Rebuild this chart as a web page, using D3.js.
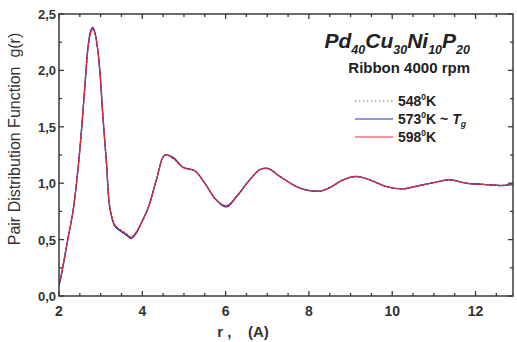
<!DOCTYPE html>
<html><head><meta charset="utf-8">
<script src="https://cdn.jsdelivr.net/npm/d3@7"></script>
<style>body{margin:0;background:#fff}svg{display:block}text{font-family:Arial,"Liberation Sans",sans-serif}</style>
</head><body><svg id="c" width="517" height="342"></svg>
<script>
const rVals = [2.0,2.06,2.14,2.22,2.34,2.46,2.54,2.62,2.70,2.76,2.81,2.86,2.92,2.98,3.06,3.14,3.22,3.34,3.50,3.62,3.73,3.86,3.98,4.14,4.34,4.54,4.74,4.98,5.26,5.50,5.78,6.02,6.26,6.58,6.82,7.02,7.30,7.70,7.94,8.26,8.50,8.82,9.14,9.46,9.86,10.26,10.66,11.06,11.38,11.78,12.18,12.66,12.9];
const g548 = [0.10,0.20,0.36,0.52,0.76,1.14,1.47,1.85,2.21,2.33,2.37,2.33,2.21,2.00,1.56,1.18,0.79,0.63,0.58,0.55,0.52,0.57,0.65,0.78,1.03,1.25,1.22,1.14,1.11,1.00,0.85,0.80,0.88,1.03,1.12,1.13,1.06,0.97,0.94,0.93,0.96,1.03,1.06,1.03,0.97,0.95,0.98,1.01,1.03,1.00,0.99,0.98,1.00];
const g573 = [0.09,0.19,0.35,0.52,0.76,1.14,1.47,1.86,2.22,2.35,2.38,2.34,2.21,2.00,1.56,1.18,0.78,0.62,0.57,0.54,0.51,0.56,0.65,0.78,1.03,1.25,1.23,1.14,1.11,1.00,0.85,0.79,0.88,1.03,1.12,1.13,1.06,0.97,0.94,0.93,0.96,1.03,1.06,1.03,0.97,0.95,0.98,1.01,1.03,1.00,0.99,0.98,0.99];
const g598 = [0.10,0.20,0.36,0.52,0.76,1.14,1.47,1.85,2.21,2.33,2.37,2.33,2.21,2.00,1.56,1.18,0.79,0.63,0.58,0.55,0.52,0.57,0.65,0.78,1.03,1.25,1.22,1.14,1.11,1.00,0.85,0.80,0.88,1.03,1.12,1.13,1.06,0.97,0.94,0.93,0.96,1.03,1.06,1.03,0.97,0.95,0.98,1.01,1.03,1.00,0.99,0.98,0.99];
const xTicks = [2,4,6,8,10,12];
const yTicks = [0,0.5,1.0,1.5,2.0,2.5];
const yTickLabels = ["0,0","0,5","1,0","1,5","2,0","2,5"];
const seriesNames = ["548","573","598"];

const svg = d3.select("#c");
const L=59,R=513,T=14,B=296;
const x = d3.scaleLinear().domain([2,12.9]).range([L,R]);
const y = d3.scaleLinear().domain([0,2.5]).range([B,T]);
const axisCol="#3a3a3a";

const line = d3.line().x((d,i)=>x(rVals[i])).y(d=>y(d)).curve(d3.curveCatmullRom.alpha(0.5));
const series = [
  {v:g548,col:"#222",dash:"1.5,2.5",w:1.3},
  {v:g573,col:"#2b2bb0",dash:null,w:1.4},
  {v:g598,col:"#e0303a",dash:null,w:1.1}
];
svg.append("defs").append("clipPath").attr("id","clp").append("rect").attr("x",L).attr("y",T-2).attr("width",R-L+2).attr("height",B-T+2);
const g = svg.append("g").attr("clip-path","url(#clp)");
series.forEach(s=>{
  g.append("path").attr("d",line(s.v)).attr("fill","none").attr("stroke",s.col)
   .attr("stroke-width",s.w).attr("stroke-dasharray",s.dash);
});

svg.append("rect").attr("x",L).attr("y",T).attr("width",R-L).attr("height",B-T)
  .attr("fill","none").attr("stroke",axisCol).attr("stroke-width",1.5);

const xMinor = d3.range(2,12.91,0.5);
const yMinor = d3.range(0,2.51,0.25);
const tg = svg.append("g").attr("stroke",axisCol).attr("stroke-width",1.3);
xMinor.forEach(v=>{
  const major = Math.abs(v-Math.round(v/2)*2)<1e-6;
  const len = major?5:3;
  tg.append("line").attr("x1",x(v)).attr("x2",x(v)).attr("y1",B).attr("y2",B-len);
  tg.append("line").attr("x1",x(v)).attr("x2",x(v)).attr("y1",T).attr("y2",T+len);
});
yMinor.forEach(v=>{
  const major = Math.abs(v-Math.round(v*2)/2)<1e-6;
  const len = major?5:3;
  tg.append("line").attr("y1",y(v)).attr("y2",y(v)).attr("x1",L).attr("x2",L+len);
  tg.append("line").attr("y1",y(v)).attr("y2",y(v)).attr("x1",R).attr("x2",R-len);
});

svg.append("g").selectAll("text").data(xTicks).join("text")
  .attr("x",d=>x(d)).attr("y",316).attr("text-anchor","middle")
  .attr("font-size",14).attr("font-weight","bold").attr("fill","#333").text(d=>d);
svg.append("g").selectAll("text").data(yTicks).join("text")
  .attr("x",56).attr("y",d=>y(d)+5).attr("text-anchor","end")
  .attr("font-size",13).attr("font-weight","bold").attr("fill","#333").text((d,i)=>yTickLabels[i]);

svg.append("text").attr("transform","translate(20,139) rotate(-90)").attr("text-anchor","middle")
  .attr("font-size",16).attr("fill","#333").attr("xml:space","preserve").text("Pair Distribution Function  g(r)");
svg.append("text").attr("x",243).attr("y",337).attr("text-anchor","middle")
  .attr("font-size",15).attr("font-weight","bold").attr("fill","#333").attr("xml:space","preserve").text("r ,    (A)");

const tt = svg.append("text").attr("x",470).attr("y",48).attr("text-anchor","end")
  .attr("font-weight","bold").attr("font-style","italic").attr("fill","#222");
[["Pd",false],["40",true],["Cu",false],["30",true],["Ni",false],["10",true],["P",false],["20",true]].forEach(([t,sub],i)=>{
  tt.append("tspan").attr("font-size",sub?12.5:21).attr("dy",i===0?0:(sub?6:-6)).text(t);
});
svg.append("text").attr("x",470).attr("y",73).attr("text-anchor","end")
  .attr("font-size",15).attr("font-weight","bold").attr("fill","#222").text("Ribbon 4000 rpm");

const ly=[101,119,137];
series.forEach((s,i)=>{
  svg.append("line").attr("x1",355).attr("x2",393).attr("y1",ly[i]).attr("y2",ly[i])
    .attr("stroke",i===0?"#777":s.col).attr("stroke-width",1.1).attr("stroke-dasharray",s.dash);
  const t = svg.append("text").attr("x",398).attr("y",ly[i]+5).attr("font-size",14)
    .attr("font-weight","bold").attr("fill","#222");
  t.append("tspan").text(seriesNames[i]);
  t.append("tspan").attr("font-size",8.5).attr("dy",-6).text("0");
  t.append("tspan").attr("dy",6).text("K");
  if(i===1){
    t.append("tspan").text(" ~ ");
    t.append("tspan").attr("font-style","italic").text("T");
    t.append("tspan").attr("font-style","italic").attr("font-size",8.5).attr("dy",3).text("g");
  }
});
</script></body></html>
